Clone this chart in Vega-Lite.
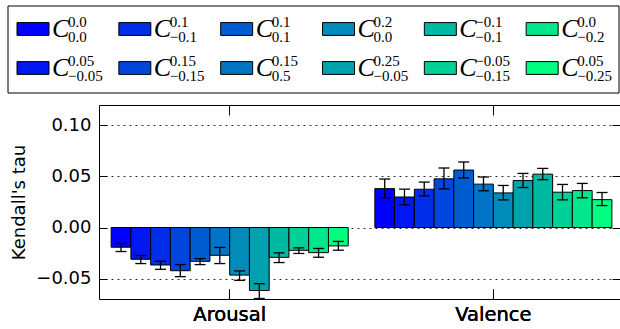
{
  "$schema": "https://vega.github.io/schema/vega-lite/v6.json",
  "padding": {"left": 7, "top": 5, "right": 0, "bottom": 0},
  "autosize": {"type": "pad"},
  "spacing": 10,
  "config": {
    "font": "DejaVu Sans",
    "view": {"stroke": "black", "strokeWidth": 1},
    "axis": {"domain": false, "labelColor": "black", "titleColor": "black", "tickColor": "black", "labelFont": "DejaVu Sans", "titleFont": "DejaVu Sans", "labelFontWeight": "normal", "titleFontWeight": "normal"}
  },
  "datasets": {
    "series": [
      {"s": "A", "sup": "0.0", "sub": "0.0"},
      {"s": "B", "sup": "0.05", "sub": "−0.05"},
      {"s": "C", "sup": "0.1", "sub": "−0.1"},
      {"s": "D", "sup": "0.15", "sub": "−0.15"},
      {"s": "E", "sup": "0.1", "sub": "0.1"},
      {"s": "F", "sup": "0.15", "sub": "0.5"},
      {"s": "G", "sup": "0.2", "sub": "0.0"},
      {"s": "H", "sup": "0.25", "sub": "−0.05"},
      {"s": "I", "sup": "−0.1", "sub": "−0.1"},
      {"s": "J", "sup": "−0.05", "sub": "−0.15"},
      {"s": "K", "sup": "0.0", "sub": "−0.2"},
      {"s": "L", "sup": "0.05", "sub": "−0.25"}
    ],
    "frame": [{"x0": 0, "x1": 6, "y0": -0.59, "y1": 1.641}],
    "bars": [
      {"dim": "Arousal", "s": "A", "value": -0.0193, "lo": -0.0235, "hi": -0.0156},
      {"dim": "Arousal", "s": "B", "value": -0.0311, "lo": -0.0353, "hi": -0.0274},
      {"dim": "Arousal", "s": "C", "value": -0.0367, "lo": -0.0409, "hi": -0.033},
      {"dim": "Arousal", "s": "D", "value": -0.0423, "lo": -0.0481, "hi": -0.0363},
      {"dim": "Arousal", "s": "E", "value": -0.0331, "lo": -0.0363, "hi": -0.0304},
      {"dim": "Arousal", "s": "F", "value": -0.0272, "lo": -0.0353, "hi": -0.0195},
      {"dim": "Arousal", "s": "G", "value": -0.0466, "lo": -0.0517, "hi": -0.0425},
      {"dim": "Arousal", "s": "H", "value": -0.0617, "lo": -0.0695, "hi": -0.055},
      {"dim": "Arousal", "s": "I", "value": -0.0292, "lo": -0.0343, "hi": -0.0248},
      {"dim": "Arousal", "s": "J", "value": -0.0223, "lo": -0.0254, "hi": -0.0199},
      {"dim": "Arousal", "s": "K", "value": -0.0246, "lo": -0.0291, "hi": -0.0205},
      {"dim": "Arousal", "s": "L", "value": -0.018, "lo": -0.0222, "hi": -0.0136},
      {"dim": "Valence", "s": "A", "value": 0.0381, "lo": 0.0291, "hi": 0.0475},
      {"dim": "Valence", "s": "B", "value": 0.0299, "lo": 0.0222, "hi": 0.0376},
      {"dim": "Valence", "s": "C", "value": 0.0375, "lo": 0.031, "hi": 0.0445},
      {"dim": "Valence", "s": "D", "value": 0.0477, "lo": 0.0379, "hi": 0.0583},
      {"dim": "Valence", "s": "E", "value": 0.0563, "lo": 0.0485, "hi": 0.0642},
      {"dim": "Valence", "s": "F", "value": 0.0425, "lo": 0.036, "hi": 0.0495},
      {"dim": "Valence", "s": "G", "value": 0.0339, "lo": 0.0271, "hi": 0.0412},
      {"dim": "Valence", "s": "H", "value": 0.046, "lo": 0.0392, "hi": 0.053},
      {"dim": "Valence", "s": "I", "value": 0.0523, "lo": 0.0468, "hi": 0.0579},
      {"dim": "Valence", "s": "J", "value": 0.0346, "lo": 0.0271, "hi": 0.0422},
      {"dim": "Valence", "s": "K", "value": 0.0362, "lo": 0.0291, "hi": 0.0432},
      {"dim": "Valence", "s": "L", "value": 0.0273, "lo": 0.0215, "hi": 0.0343}
    ]
  },
  "vconcat": [
    {
      "width": 520,
      "height": 87,
      "view": {"stroke": null},
      "layer": [
        {
          "data": {"name": "frame"},
          "mark": {"type": "rect", "fill": null, "stroke": "black", "strokeWidth": 1, "clip": false},
          "encoding": {
            "x": {"field": "x0", "type": "quantitative", "scale": {"domain": [0, 6], "range": [-91, 520], "nice": false, "zero": false}, "axis": null},
            "x2": {"field": "x1"},
            "y": {"field": "y0", "type": "quantitative", "scale": {"domain": [-0.59, 1.641], "range": [0, 87], "nice": false, "zero": false}, "axis": null},
            "y2": {"field": "y1"}
          }
        },
        {
          "data": {"name": "series"},
          "transform": [
            {"window": [{"op": "row_number", "as": "idx"}]},
            {"calculate": "floor((datum.idx - 1) / 2)", "as": "lcol"},
            {"calculate": "(datum.idx - 1) % 2", "as": "lrow"}
          ],
          "encoding": {
            "x": {"field": "lcol", "type": "quantitative", "axis": null},
            "y": {"field": "lrow", "type": "quantitative", "axis": null}
          },
          "layer": [
            {
              "mark": {"type": "point", "shape": "M0.5625,-0.4H2.5625V0.4H0.5625Z", "size": 1024, "filled": true, "stroke": "black", "strokeWidth": 1, "opacity": 1},
              "encoding": {
                "fill": {"field": "s", "type": "nominal", "legend": null,
                  "scale": {"domain": ["A","B","C","D","E","F","G","H","I","J","K","L"],
                            "range": ["#0000ff","#0017f3","#002ee8","#0046dc","#005dd1","#0074c5","#008bb9","#00a2ae","#00b9a2","#00d197","#00e88b","#00ff80"]}}
              }
            },
            {
              "mark": {"type": "text", "text": "C", "font": "Liberation Serif", "fontStyle": "italic", "fontSize": 26, "align": "left", "baseline": "alphabetic", "dx": 44, "dy": 7.7, "color": "black"}
            },
            {
              "mark": {"type": "text", "font": "Liberation Serif", "fontSize": 15, "align": "left", "baseline": "alphabetic", "dx": 60, "dy": -2, "color": "black"},
              "encoding": {"text": {"field": "sup", "type": "nominal"}}
            },
            {
              "mark": {"type": "text", "font": "Liberation Serif", "fontSize": 15, "align": "left", "baseline": "alphabetic", "dx": 60, "dy": 12.7, "color": "black"},
              "encoding": {"text": {"field": "sub", "type": "nominal"}}
            }
          ]
        }
      ]
    },
    {
      "width": 521,
      "height": 194,
      "data": {"name": "bars"},
      "encoding": {
        "x": {"field": "dim", "type": "nominal",
          "scale": {"type": "band", "domain": ["Arousal", "Valence"], "paddingInner": 0.101, "paddingOuter": 0.0384, "align": 0.6},
          "axis": {"orient": "bottom", "title": null, "labelAngle": 0, "labelFontSize": 19.5, "tickSize": -10, "labelPadding": 16, "grid": false}},
        "xOffset": {"field": "s", "type": "nominal", "scale": {"domain": ["A","B","C","D","E","F","G","H","I","J","K","L"], "paddingInner": 0, "paddingOuter": 0}}
      },
      "layer": [
        {
          "mark": {"type": "bar", "stroke": "black", "strokeWidth": 1},
          "encoding": {
            "y": {"field": "value", "type": "quantitative",
              "scale": {"domain": [-0.07, 0.12], "nice": false, "zero": false},
              "axis": {"orient": "left", "values": [-0.05, 0, 0.05, 0.1], "format": ".2f", "title": "Kendall's tau",
                "titleFontSize": 18, "labelFontSize": 18, "grid": true, "gridDash": [2, 4], "gridColor": "#333",
                "gridWidth": 1, "tickSize": -8, "labelPadding": 16, "minExtent": 66, "maxExtent": 66, "titlePadding": 5}},
            "color": {"field": "s", "type": "nominal", "legend": null,
              "scale": {"domain": ["A","B","C","D","E","F","G","H","I","J","K","L"],
                        "range": ["#0000ff","#0017f3","#002ee8","#0046dc","#005dd1","#0074c5","#008bb9","#00a2ae","#00b9a2","#00d197","#00e88b","#00ff80"]}}
          }
        },
        {
          "mark": {"type": "rule", "strokeWidth": 1.3, "color": "black"},
          "encoding": {
            "x": {"field": "dim", "type": "nominal",
              "axis": {"orient": "top", "title": null, "labels": false, "tickSize": -10, "grid": false}},
            "y": {"field": "lo", "type": "quantitative",
              "axis": {"orient": "right", "title": null, "labels": false, "values": [-0.05, 0, 0.05, 0.1], "tickSize": -8, "grid": false}},
            "y2": {"field": "hi"}
          }
        },
        {
          "mark": {"type": "tick", "orient": "horizontal", "size": 11, "thickness": 1.3, "color": "black", "opacity": 1},
          "encoding": {"y": {"field": "lo", "type": "quantitative", "axis": null}}
        },
        {
          "mark": {"type": "tick", "orient": "horizontal", "size": 11, "thickness": 1.3, "color": "black", "opacity": 1},
          "encoding": {"y": {"field": "hi", "type": "quantitative", "axis": null}}
        }
      ]
    }
  ]
}
